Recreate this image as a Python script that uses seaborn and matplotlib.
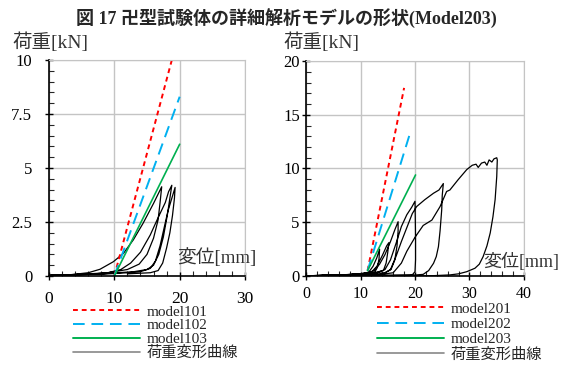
import matplotlib
matplotlib.use("Agg")
import matplotlib.pyplot as plt
import seaborn as sns
from matplotlib.lines import Line2D
from matplotlib.ticker import MultipleLocator

sns.set_style("white")
plt.rcParams['font.family'] = ['Liberation Serif', 'Noto Sans CJK JP', 'DejaVu Sans']

title = "図 17 卍型試験体の詳細解析モデルの形状(Model203)"
ylab = "荷重[kN]"
xlab = "変位[mm]"
curve_name = "荷重変形曲線"

# left panel: analysis models (straight lines from start to end)
left_names = ["model101", "model102", "model103"]
left_model_x = [[10.0, 18.8], [10.0, 20.0], [10.0, 20.0]]
left_model_y = [[0.0, 10.0], [0.0, 8.3], [0.0, 6.1]]

# left panel: measured load-deformation curve (cyclic)
left_curve_x = [0, 3, 6, 7.8, 9.85, 11.4, 12.9, 14.4, 16.0, 17.25,
                17.0, 16.7, 16.0, 15.0, 13.8, 12.0, 9.0, 5.0, 0.0,
                5.0, 9.0, 11.0, 12.5, 14.0, 15.5, 16.7, 17.8, 18.3, 18.8,
                18.5, 18.1, 17.5, 16.8, 16.0, 15.0, 13.0, 8.0, 0.0,
                8.0, 12.0, 14.0, 15.5, 16.3, 17.0, 17.6, 18.2, 18.8, 19.3,
                19.2, 18.9, 18.5, 18.0, 17.4, 16.7, 15.5, 12.0]
left_curve_y = [0, 0.05, 0.15, 0.31, 0.66, 1.05, 1.67, 2.44, 3.36, 4.13,
                3.4, 2.6, 1.75, 1.0, 0.55, 0.3, 0.15, 0.08, 0.02,
                0.05, 0.15, 0.3, 0.6, 1.1, 1.9, 2.7, 3.4, 3.9, 4.2,
                3.6, 2.8, 1.8, 1.0, 0.5, 0.3, 0.2, 0.1, 0.03,
                0.08, 0.15, 0.2, 0.35, 0.7, 1.4, 2.2, 3.0, 3.6, 4.1,
                3.6, 2.8, 2.0, 1.3, 0.6, 0.25, 0.15, 0.1]

# right panel
right_names = ["model201", "model202", "model203"]
right_model_x = [[11.3, 18.0], [11.3, 19.1], [11.3, 20.1]]
right_model_y = [[0.5, 17.5], [0.5, 13.3], [0.5, 9.4]]

right_curve_x = [0, 4, 8, 10, 11.5, 12.3, 13.0, 13.5,
                 13.4, 13.1, 12.6, 9.0, 4.0, 0.0,
                 5.0, 10.0, 12.0, 13.0, 14.0, 14.8, 15.2,
                 15.0, 14.7, 14.2, 12.0, 6.0, 0.0,
                 6.0, 11.0, 12.5, 13.5, 14.5, 15.5, 16.3, 16.9,
                 16.9, 16.7, 16.3, 15.6, 14.5, 8.0, 0.0,
                 8.0, 13.0, 14.5, 15.5, 16.5, 17.5, 18.5, 19.4, 20.0,
                 20.05, 20.1, 20.1, 20.0, 19.5, 10.0, 0.0,
                 10.0, 14.0, 15.5, 16.5, 17.5, 18.5, 19.5, 20.3, 21.8, 23.4, 24.4, 25.2,
                 25.0, 24.9, 24.6, 24.3, 23.9, 23.4, 22.5, 21.5, 19.0, 12.0,
                 16.0, 17.5, 18.5, 20.0, 21.5, 23.1, 24.6, 25.8, 26.4, 27.9, 29.5,
                 30.5, 31.2, 31.6, 32.2, 32.8, 33.2, 33.6, 34.1, 34.5, 35.0,
                 35.1, 35.0, 34.7, 34.3, 33.8, 33.2, 32.5, 31.8, 31.0, 29.5, 28.0,
                 26.4, 23.4, 20.0, 10.0, 0.0]
right_curve_y = [0, 0.05, 0.12, 0.2, 0.35, 0.9, 1.7, 2.5,
                 1.6, 0.8, 0.35, 0.12, 0.05, 0.02,
                 0.06, 0.18, 0.35, 0.9, 1.9, 2.8, 3.1,
                 2.2, 1.2, 0.5, 0.25, 0.08, 0.02,
                 0.08, 0.25, 0.5, 1.1, 2.0, 3.2, 4.3, 5.05,
                 4.2, 2.8, 1.5, 0.6, 0.3, 0.1, 0.02,
                 0.1, 0.3, 0.6, 1.5, 3.0, 4.6, 5.7, 6.4, 6.95,
                 5.5, 3.5, 1.5, 0.4, 0.1, 0.05, 0.02,
                 0.05, 0.15, 0.6, 1.8, 3.2, 4.5, 5.8, 6.46, 7.1, 7.7, 8.0, 8.6,
                 7.5, 6.15, 4.2, 2.73, 1.8, 1.18, 0.5, 0.15, 0.05, 0.03,
                 0.3, 1.2, 2.3, 3.6, 4.7, 5.2, 6.46, 7.86, 8.0, 8.95, 9.9,
                 10.3, 10.4, 10.1, 10.5, 10.6, 10.3, 10.8, 10.6, 10.9, 11.0,
                 10.8, 9.25, 7.1, 5.5, 4.0, 2.8, 1.8, 1.1, 0.72, 0.4, 0.2,
                 0.1, 0.03, 0.02, 0.02, 0.02]

model_colors = ["#ff0000", "#00b0f0", "#00b050"]
model_dashes = [(2.5, 2.0), (6.0, 3.5), ()]

fig = plt.figure(figsize=(5.69, 3.70), dpi=100)
axL = fig.add_axes([0.0861, 0.2541, 0.3445, 0.5838])
axR = fig.add_axes([0.5378, 0.2541, 0.3831, 0.5810])


def draw(ax, mx, my, cx, cy, xmax, ymax, ymaj, ymin_step, ypad, xsize, xpad):
    sns.lineplot(x=cx, y=cy, sort=False, estimator=None, color="black",
                 linewidth=0.9, ax=ax)
    for i in range(3):
        sns.lineplot(x=mx[i], y=my[i], color=model_colors[i],
                     linewidth=1.4 if model_dashes[i] else 1.2, ax=ax)
        if model_dashes[i]:
            ax.lines[-1].set_dashes(model_dashes[i])
    ax.set_xlim(0, xmax)
    ax.set_ylim(0, ymax)
    ax.xaxis.set_major_locator(MultipleLocator(10))
    ax.xaxis.set_minor_locator(MultipleLocator(2))
    ax.yaxis.set_major_locator(MultipleLocator(ymaj))
    ax.yaxis.set_minor_locator(MultipleLocator(ymin_step))
    ax.grid(True, which="major", color="#c4c4c4", linewidth=1.0)
    ax.set_axisbelow(True)
    for s in ["top", "right"]:
        ax.spines[s].set_color("#c4c4c4")
    for s in ["left", "bottom"]:
        ax.spines[s].set_color("black")
        ax.spines[s].set_linewidth(1.2)
    ax.tick_params(which="major", direction="inout", length=6, width=1.0,
                   colors="black", bottom=True, left=True)
    ax.tick_params(which="minor", direction="in", length=3.5, width=0.8,
                   bottom=True, left=True)
    ax.tick_params(axis="x", which="major", pad=xpad, labelsize=xsize)
    ax.tick_params(axis="y", which="major", pad=ypad, labelsize=12)
    ax.set_xlabel("")
    ax.set_ylabel("")


draw(axL, left_model_x, left_model_y, left_curve_x, left_curve_y,
     30, 10, 2.5, 0.5, 9, 12.5, 8)
axL.yaxis.set_major_formatter(matplotlib.ticker.FuncFormatter(
    lambda v, p: ("%g" % v)))
draw(axR, right_model_x, right_model_y, right_curve_x, right_curve_y,
     40, 20, 5, 1, 1.5, 11.5, 4)

fig.text(0.504, 0.951, title, ha="center", va="center", fontsize=13,
         fontweight="bold")
fig.text(12 / 569, 1 - 42 / 370, ylab, ha="left", va="center", fontsize=14,
         color="#333333")
fig.text(283 / 569, 1 - 42 / 370, ylab, ha="left", va="center", fontsize=14,
         color="#333333")
fig.text(177 / 569, 1 - 258 / 370, xlab, ha="left", va="center", fontsize=13.5,
         color="#333333")
fig.text(483 / 569, 1 - 262 / 370, xlab, ha="left", va="center", fontsize=13,
         color="#333333")


def legend_handles(names):
    hs = []
    for i in range(3):
        h = Line2D([], [], color=model_colors[i], linewidth=1.4)
        if model_dashes[i]:
            h.set_dashes(model_dashes[i])
        hs.append(h)
    hs.append(Line2D([], [], color="#888888", linewidth=1.2))
    return hs, names + [curve_name]


hL, lL = legend_handles(left_names)
fig.legend(hL, lL, loc="upper left", bbox_to_anchor=(73 / 569, 1 - 305 / 370),
           frameon=False, fontsize=11, handlelength=4.4, handletextpad=0.45,
           labelspacing=0.0, borderpad=0, borderaxespad=0)
hR, lR = legend_handles(right_names)
fig.legend(hR, lR, loc="upper left", bbox_to_anchor=(377 / 569, 1 - 302 / 370),
           frameon=False, fontsize=11, handlelength=4.4, handletextpad=0.45,
           labelspacing=0.1, borderpad=0, borderaxespad=0)

fig.savefig("out.png", dpi=100)
